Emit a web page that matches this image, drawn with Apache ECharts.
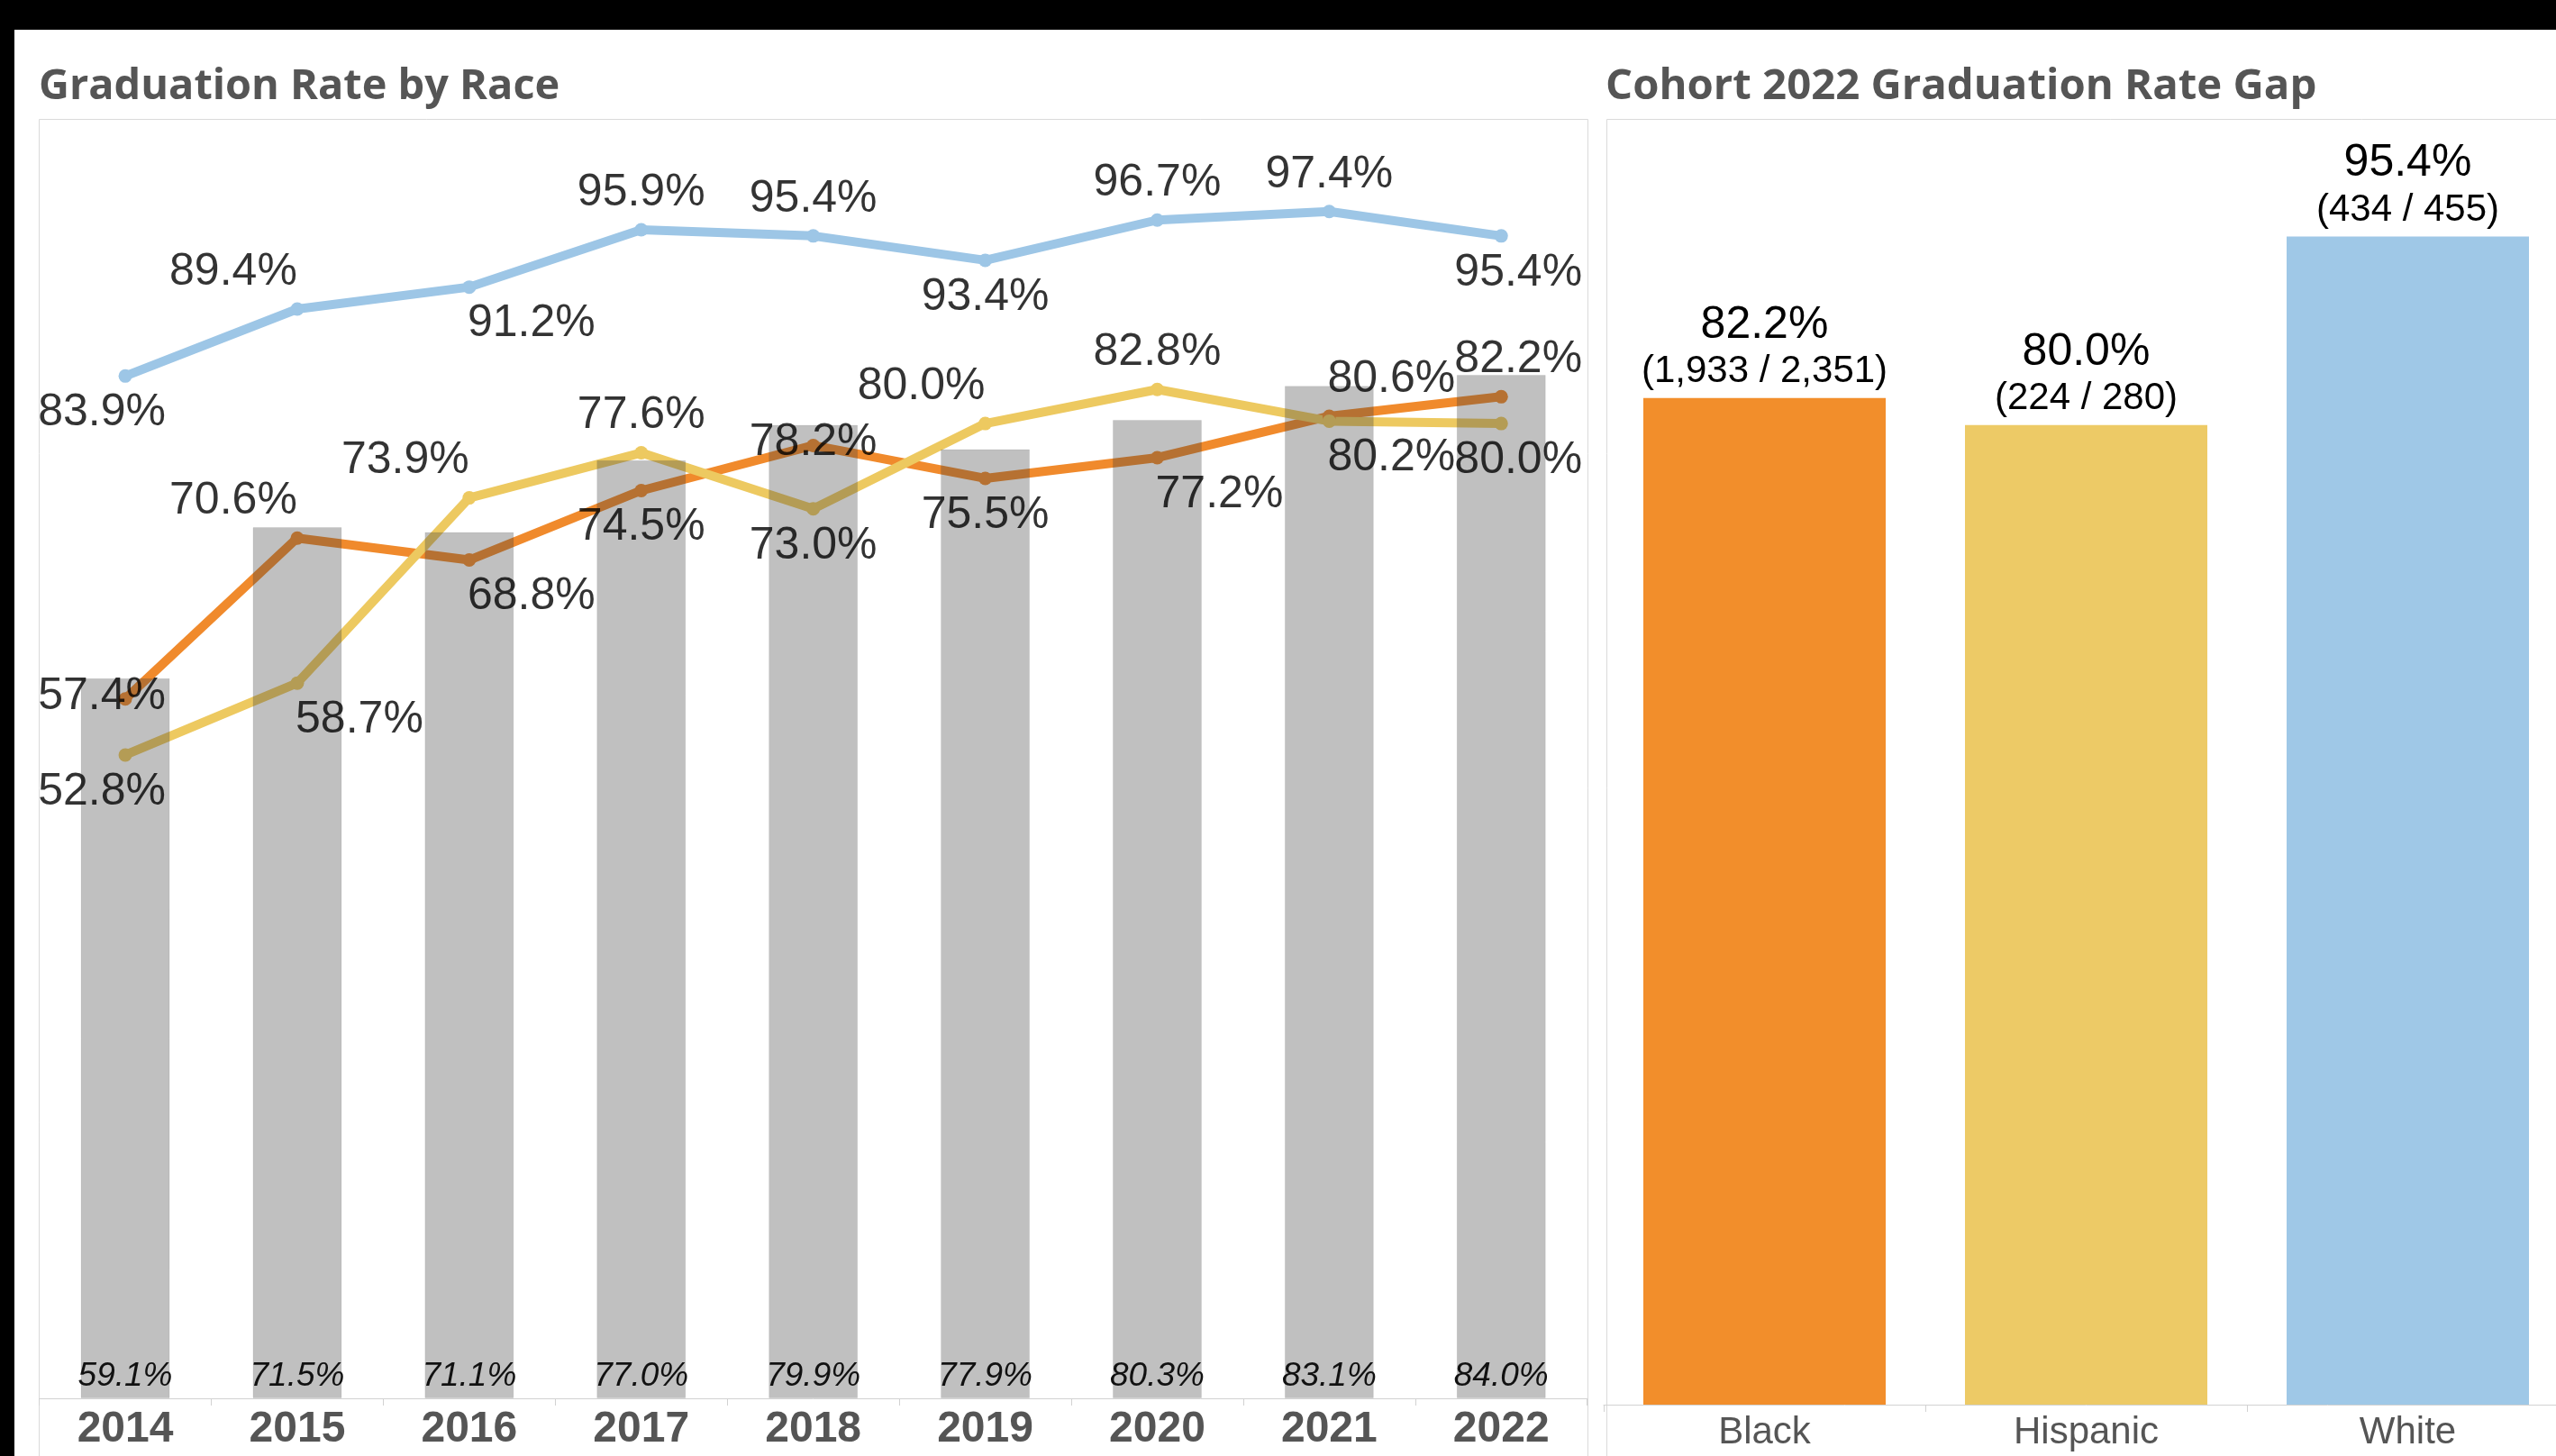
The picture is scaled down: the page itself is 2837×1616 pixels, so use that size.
<!DOCTYPE html>
<html><head><meta charset="utf-8">
<script src="https://cdn.jsdelivr.net/npm/echarts@6/dist/echarts.min.js"></script>
<style>html,body{margin:0;padding:0;background:#fff;overflow:hidden}#c{width:2900px;height:1616px}</style>
</head><body><div id="c"></div>
<script>
// ---------- data ----------
const years = ['2014','2015','2016','2017','2018','2019','2020','2021','2022'];
const overallRate = [59.1, 71.5, 71.1, 77.0, 79.9, 77.9, 80.3, 83.1, 84.0];
const whiteRate = [83.9, 89.4, 91.2, 95.9, 95.4, 93.4, 96.7, 97.4, 95.4];
const blackRate = [57.4, 70.6, 68.8, 74.5, 78.2, 75.5, 77.2, 80.6, 82.2];
const hispanicRate = [52.8, 58.7, 73.9, 77.6, 73.0, 80.0, 82.8, 80.2, 80.0];

const gapGroups = ['Black', 'Hispanic', 'White'];
const gapRate = [82.2, 80.0, 95.4];
const gapGraduates = [1933, 224, 434];
const gapCohort = [2351, 280, 455];

const leftTitle = 'Graduation Rate by Race';
const rightTitle = 'Cohort 2022 Graduation Rate Gap';

// ---------- label placement (layout only) ----------
const whiteLabelPos    = ['lB','LA','RB','CA','CA','CB','CA','CA','rB'];
const blackLabelPos    = ['lM','LA','RB','CB','CM','CB','RB','RA','rA'];
const hispanicLabelPos = ['lB','RB','LA','CA','CB','LA','CA','RB','rB'];
const DX = {L:-71, C:0, R:69, l:-26, r:19};
const DY = {A:-41, B:41, M:-3};

// ---------- styles ----------
const TXT = '"Liberation Sans", Arial, sans-serif';
const cWhite = '#9DC6E6', cBlack = '#F08A2C', cHisp = '#EDC960';
const gapColors = ['#F28E2B', '#EDCA66', '#9FC8E7'];

function fitFont(text, target) {
  const ctx = document.createElement('canvas').getContext('2d');
  ctx.font = 'bold 100px "Open Sans"';
  return 100 * target / ctx.measureText(text).width;
}
const fL = fitFont(leftTitle, 578), fR = fitFont(rightTitle, 790);

const pct = v => v.toFixed(1) + '%';

function labelSeries(vals, pos) {
  return {
    type: 'scatter', xAxisIndex: 0, yAxisIndex: 0, z: 10, silent: true,
    symbol: 'circle', symbolSize: 1, itemStyle: {color: 'rgba(0,0,0,0)'},
    data: vals.map((v, i) => ({
      value: v,
      label: {offset: [DX[pos[i][0]], DY[pos[i][1]]]}
    })),
    label: {
      show: true, position: 'inside', formatter: p => pct(p.value),
      fontFamily: TXT, fontSize: 50, color: '#000',
      align: 'center', verticalAlign: 'middle'
    }
  };
}
function lineSeries(vals, color) {
  return {
    type: 'line', xAxisIndex: 0, yAxisIndex: 0, z: 2, silent: true,
    data: vals, symbol: 'circle', symbolSize: 15, showSymbol: true,
    lineStyle: {color: color, width: 10},
    itemStyle: {color: color},
    label: {show: false}
  };
}

const chart = echarts.init(document.getElementById('c'), null, {renderer: 'canvas'});
chart.setOption({
  animation: false,
  backgroundColor: '#fff',
  grid: [
    {left: 43.6, top: 132, width: 1718.1, height: 1420},
    {left: 1780, top: 132, width: 1071, height: 1427}
  ],
  xAxis: [
    {type: 'category', gridIndex: 0, data: years, boundaryGap: true,
     axisLine: {lineStyle: {color: '#d2d2d2', width: 1}},
     axisTick: {show: true, length: 8, lineStyle: {color: '#d2d2d2'}},
     axisLabel: {fontFamily: TXT, fontSize: 48, fontWeight: 'bold', color: '#555', margin: 11}},
    {type: 'category', gridIndex: 1, data: gapGroups, boundaryGap: true,
     axisLine: {lineStyle: {color: '#d2d2d2', width: 1}},
     axisTick: {show: true, length: 8, lineStyle: {color: '#d2d2d2'}},
     axisLabel: {fontFamily: TXT, fontSize: 42, color: '#555', margin: 10}}
  ],
  yAxis: [
    {type: 'value', gridIndex: 0, min: 0, max: 105, show: false, splitLine: {show: false}},
    {type: 'value', gridIndex: 1, min: 0, max: 105, show: false, splitLine: {show: false}}
  ],
  series: [
    lineSeries(whiteRate, cWhite),
    lineSeries(blackRate, cBlack),
    lineSeries(hispanicRate, cHisp),
    {
      type: 'bar', xAxisIndex: 0, yAxisIndex: 0, z: 3, silent: true,
      data: overallRate, barWidth: 99,
      itemStyle: {color: 'rgba(64,64,64,0.33)', borderColor: 'rgba(0,0,0,0.06)', borderWidth: 1},
      label: {show: true, position: 'insideBottom', distance: 6, formatter: p => pct(p.value),
              fontFamily: TXT, fontSize: 37, fontStyle: 'italic', color: '#111'}
    },
    labelSeries(whiteRate, whiteLabelPos),
    labelSeries(blackRate, blackLabelPos),
    labelSeries(hispanicRate, hispanicLabelPos),
    {
      type: 'bar', xAxisIndex: 1, yAxisIndex: 1, z: 3, silent: true, barWidth: 269,
      data: gapRate.map((v, i) => ({value: v, itemStyle: {color: gapColors[i]}})),
      label: {
        show: true, position: 'top', distance: 5,
        formatter: p => '{a|' + pct(p.value) + '}\n{b|(' +
          gapGraduates[p.dataIndex].toLocaleString('en-US') + ' / ' +
          gapCohort[p.dataIndex].toLocaleString('en-US') + ')}',
        rich: {
          a: {fontFamily: TXT, fontSize: 50, lineHeight: 56, color: '#000'},
          b: {fontFamily: TXT, fontSize: 42, lineHeight: 48, color: '#000'}
        }
      }
    }
  ],
  graphic: [
    {type: 'rect', z: 0, silent: true, shape: {x: 43.5, y: 132.5, width: 1719, height: 1600},
     style: {fill: 'none', stroke: '#dadada', lineWidth: 1}},
    {type: 'rect', z: 0, silent: true, shape: {x: 1783.5, y: 132.5, width: 1200, height: 1600},
     style: {fill: 'none', stroke: '#dadada', lineWidth: 1}},
    {type: 'text', z: 50, silent: true, style: {x: 43, y: 97, text: leftTitle, verticalAlign: 'middle',
      font: 'bold ' + fL.toFixed(1) + 'px "Open Sans"', fill: '#555'}},
    {type: 'text', z: 50, silent: true, style: {x: 1782, y: 97, text: rightTitle, verticalAlign: 'middle',
      font: 'bold ' + fR.toFixed(1) + 'px "Open Sans"', fill: '#555'}},
    {type: 'rect', z: 100, silent: true, shape: {x: 0, y: 0, width: 2900, height: 33}, style: {fill: '#000'}},
    {type: 'rect', z: 100, silent: true, shape: {x: 0, y: 0, width: 16, height: 1616}, style: {fill: '#000'}}
  ]
});
</script></body></html>
